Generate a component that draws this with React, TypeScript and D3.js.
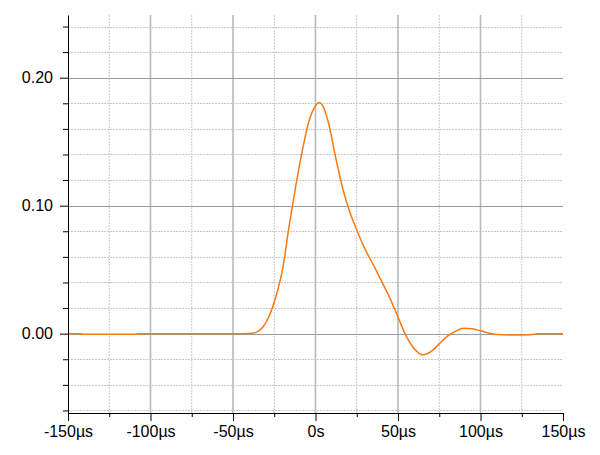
import { useEffect, useRef } from "react";
import * as d3 from "d3";

const times = [
  -150, -143, -140, -110, -107, -70, -50, -40, -36, -32, -28, -24, -20, -16, -12, -8, -4, 0, 2, 4, 8, 12,
  16, 20, 25, 30, 35, 40, 45, 50, 55, 60, 65, 70, 75, 80, 85, 90, 95, 100, 105, 110, 120, 130, 135, 150,
];
const values = [
  0, 0, -0.0005, -0.0005, 0, 0, 0, 0.0002, 0.001, 0.005, 0.014, 0.029, 0.05, 0.084, 0.115, 0.143, 0.166,
  0.178, 0.1807, 0.179, 0.164, 0.139, 0.116, 0.098, 0.081, 0.066, 0.054, 0.041, 0.028, 0.013, -0.002,
  -0.012, -0.0165, -0.014, -0.008, -0.002, 0.002, 0.0042, 0.0038, 0.0022, 0.0005, -0.0007, -0.001,
  -0.0008, 0, 0,
];
const xMajorTicks = [-150, -100, -50, 0, 50, 100, 150];
const xTickLabels = ["-150µs", "-100µs", "-50µs", "0s", "50µs", "100µs", "150µs"];
const xMinorTicks = [-125, -75, -25, 25, 75, 125];
const yMajorTicks = [0, 0.1, 0.2];
const yMinorTicks = [-0.06, -0.04, -0.02, 0.02, 0.04, 0.06, 0.08, 0.12, 0.14, 0.16, 0.18, 0.22, 0.24];

export default function App() {
  const ref = useRef<SVGSVGElement>(null);

  useEffect(() => {
    if (!ref.current) return;
    const width = 600;
    const height = 455;
    const margin = { top: 15, right: 37, bottom: 42, left: 68 };
    const innerWidth = width - margin.left - margin.right;
    const innerHeight = height - margin.top - margin.bottom;

    d3.select(ref.current).selectAll("*").remove();
    const svg = d3
      .select(ref.current)
      .attr("width", width)
      .attr("height", height)
      .append("g")
      .attr("transform", `translate(${margin.left},${margin.top})`);

    const x = d3.scaleLinear().domain([-150, 150]).range([0, innerWidth]);
    const y = d3.scaleLinear().domain([-0.062, 0.249]).range([innerHeight, 0]);

    // minor grid (dotted)
    svg
      .selectAll(".vminor")
      .data(xMinorTicks)
      .enter()
      .append("line")
      .attr("x1", (d) => x(d))
      .attr("x2", (d) => x(d))
      .attr("y1", 0)
      .attr("y2", innerHeight)
      .attr("stroke", "#c8c8c8")
      .attr("stroke-dasharray", "2,1");
    svg
      .selectAll(".hminor")
      .data(yMinorTicks)
      .enter()
      .append("line")
      .attr("x1", 0)
      .attr("x2", innerWidth)
      .attr("y1", (d) => Math.round(y(d)) + 0.5)
      .attr("y2", (d) => Math.round(y(d)) + 0.5)
      .attr("stroke", "#c8c8c8")
      .attr("stroke-dasharray", "2,1");

    // major grid
    svg
      .selectAll(".vmajor")
      .data(xMajorTicks.slice(1, -1))
      .enter()
      .append("line")
      .attr("x1", (d) => x(d))
      .attr("x2", (d) => x(d))
      .attr("y1", 0)
      .attr("y2", innerHeight)
      .attr("stroke", "#b8b8b8")
      .attr("stroke-width", 1.6);
    svg
      .selectAll(".hmajor")
      .data(yMajorTicks)
      .enter()
      .append("line")
      .attr("x1", 0)
      .attr("x2", innerWidth)
      .attr("y1", (d) => Math.round(y(d)) + 0.5)
      .attr("y2", (d) => Math.round(y(d)) + 0.5)
      .attr("stroke", "#9a9a9a");

    // curve
    const line = d3
      .line<number>()
      .x((_, i) => x(times[i]))
      .y((d) => y(d))
      .curve(d3.curveMonotoneX);
    svg
      .append("path")
      .datum(values)
      .attr("d", line)
      .attr("fill", "none")
      .attr("stroke", "#fb7a10")
      .attr("stroke-width", 1.5);

    const font = "'Liberation Sans', Arial, sans-serif";

    // x axis
    const xAxis = svg
      .append("g")
      .attr("transform", `translate(0,${innerHeight})`)
      .call(
        d3
          .axisBottom(x)
          .tickValues(xMajorTicks)
          .tickSize(8)
          .tickPadding(5)
          .tickFormat((_, i) => xTickLabels[i])
      );
    xAxis.selectAll("text").style("font-family", font).style("font-size", "16px").attr("fill", "#000");
    xAxis.select(".domain").attr("stroke", "#000");
    svg
      .append("g")
      .attr("transform", `translate(0,${innerHeight})`)
      .call(d3.axisBottom(x).tickValues(xMinorTicks).tickSize(4).tickFormat(() => ""))
      .select(".domain")
      .remove();

    // y axis
    const yAxis = svg
      .append("g")
      .call(
        d3
          .axisLeft(y)
          .tickValues(yMajorTicks)
          .tickSize(8)
          .tickPadding(7)
          .tickFormat(d3.format(".2f"))
          .tickSizeOuter(0)
      );
    yAxis.selectAll("text").style("font-family", font).style("font-size", "16px").attr("fill", "#000");
    yAxis.select(".domain").attr("stroke", "#000");
    svg
      .append("g")
      .call(d3.axisLeft(y).tickValues(yMinorTicks).tickSize(5).tickFormat(() => ""))
      .select(".domain")
      .remove();
  }, []);

  return <svg ref={ref} style={{ position: "absolute", left: 0, top: 0 }} />;
}
